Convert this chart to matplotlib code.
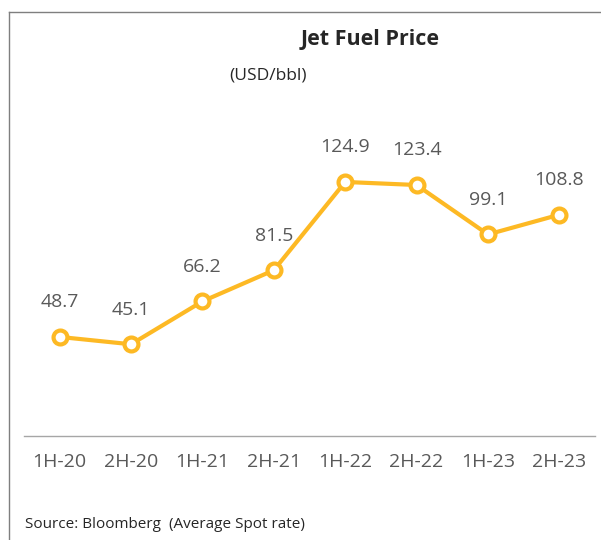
"""Jet fuel price chart (half-year averages)."""
import matplotlib

matplotlib.use("Agg")
import matplotlib.pyplot as plt
from matplotlib.lines import Line2D

periods = ["1H-20", "2H-20", "1H-21", "2H-21", "1H-22", "2H-22", "1H-23", "2H-23"]
prices = [48.7, 45.1, 66.2, 81.5, 124.9, 123.4, 99.1, 108.8]

ORANGE = "#FDB924"
TEXT = "#595959"

plt.rcParams["font.family"] = ["Open Sans", "DejaVu Sans"]

fig = plt.figure(figsize=(6.01, 5.40), dpi=100)
ax = fig.add_axes([24 / 601, 1 - 436 / 540, (595 - 24) / 601, 0.565])

x = list(range(len(periods)))
ax.plot(x, prices, color=ORANGE, lw=3, marker="o", ms=10,
        mfc="white", mec=ORANGE, mew=3, zorder=3)
for xi, v in zip(x, prices):
    ax.annotate(f"{v:.1f}", (xi, v), xytext=(0, 25), textcoords="offset points",
                ha="center", va="center", fontsize=14, color=TEXT)

ax.set_xlim(-0.5, len(periods) - 0.5)
ax.set_ylim(0, 150)
ax.set_xticks(x)
ax.set_xticklabels(periods, fontsize=14, color=TEXT)
ax.tick_params(axis="x", length=0, pad=12)
ax.set_yticks([])
for side in ["top", "right", "left"]:
    ax.spines[side].set_visible(False)
ax.spines["bottom"].set_color("#a6a6a6")
ax.spines["bottom"].set_linewidth(1)

fig.text(370 / 601, 1 - 40 / 540, "Jet Fuel Price", ha="center", va="center",
         fontsize=15.5, fontweight="bold", color="#262626")
fig.text(268 / 601, 1 - 75 / 540, "(USD/bbl)", ha="center", va="center",
         fontsize=12.5, color="#262626")
fig.text(25 / 601, 1 - 524 / 540, "Source: Bloomberg  (Average Spot rate)",
         ha="left", va="center", fontsize=11, color="#262626")

# outer frame (left and top edges only, as in the reference crop)
fig.add_artist(Line2D([9 / 601, 9 / 601], [0, 1 - 12 / 540], color="#7f7f7f", lw=1))
fig.add_artist(Line2D([9 / 601, 1], [1 - 12 / 540, 1 - 12 / 540], color="#7f7f7f", lw=1))

fig.savefig("out.png", dpi=100)
